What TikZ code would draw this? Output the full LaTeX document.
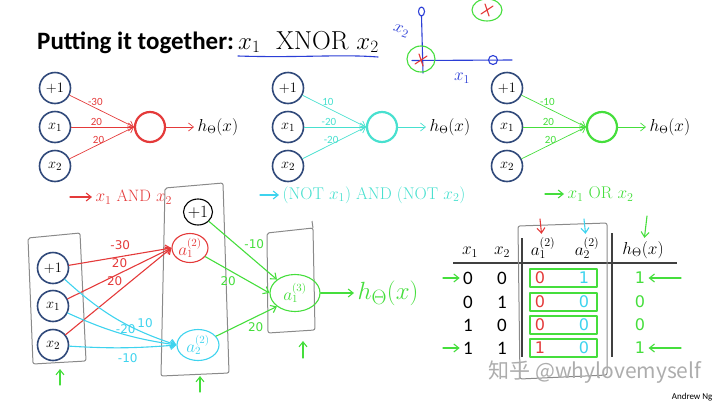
\documentclass[tikz,border=0pt]{standalone}
\usepackage{fontspec}
\newfontfamily\slidefont{Carlito}
\newfontfamily\penfont{DejaVu Sans}
\newfontfamily\cjkfont{Noto Sans CJK SC}
\usetikzlibrary{arrows.meta,shapes.geometric}

\definecolor{inblue}{HTML}{30497A}
\definecolor{andred}{HTML}{E43A3A}
\definecolor{norcyan}{HTML}{48E0CF}
\definecolor{orgreen}{HTML}{45DE3C}
\definecolor{penblue}{HTML}{2B3ED6}
\definecolor{pencyan}{HTML}{3ED3EE}
\definecolor{boxgray}{HTML}{8A8A8A}

\newcommand\setfs[1]{\fontsize{#1}{#1}\selectfont}

\begin{document}
\begin{tikzpicture}[x=1pt, y=-1pt,
  innode/.style={circle, draw=inblue, line width=1.6pt, minimum size=31pt, inner sep=0pt, font=\setfs{15}},
  outnode/.style={circle, line width=2.2pt, minimum size=30pt, inner sep=0pt},
  slidew/.style={font=\slidefont\setfs{11}, inner sep=1pt},
  penw/.style={font=\penfont\setfs{12}, inner sep=1pt},
  tip/.style={-{Straight Barb[length=5pt,width=8pt]}},
  pen/.style={line width=1.1pt, line cap=round, line join=round},
  hunit/.style={ellipse, draw, pen, inner sep=0pt, font=\setfs{16}},
  graybox/.style={draw=boxgray, line width=1pt, line join=round, rounded corners=2pt},
  numtxt/.style={font=\slidefont\setfs{19}},
  pennum/.style={font=\penfont\setfs{16}},
]
\useasboundingbox (0,0) rectangle (720,405);

% title and sketch
\node[anchor=base west, font=\slidefont\bfseries\setfs{25}, inner sep=0pt] (title) at (37,49) {Putting it together:};
\node[anchor=base west, font=\setfs{26}, inner sep=0pt] (xnor) at (238,49) {$x_1\ \ \mathrm{XNOR}\ x_2$};
\draw[penblue, pen] (238,56) .. controls (300,58) and (340,54) .. (378,57);

\draw[penblue, pen] (421.5,16) -- (423,73);
\draw[penblue, pen] (412,60.5) -- (512,60);
\draw[penblue, pen] (421.5,11.5) ellipse (3 and 4.5);
\draw[penblue, pen] (493,60) ellipse (4.5 and 4.5);
\draw[orgreen, pen] (421,59) ellipse (14 and 13);
\draw[orgreen, pen] (487,10) ellipse (15 and 11);
\foreach \px/\py in {421/60, 487/10}
  \draw[andred, pen] (\px-6,\py+4) -- (\px+6,\py-4) (\px-2,\py-6) -- (\px+2,\py+6);
\node[text=penblue, rotate=-20, font=\setfs{17}, inner sep=0pt] (axtwo) at (401,31) {$x_2$};
\node[text=penblue, font=\setfs{17}, inner sep=0pt] (axone) at (462,78) {$x_1$};

% three single neurons
\foreach \n/\xi/\xo/\c/\wa/\wb/\wc in {A/55/150/andred/-30/20/20, B/288/382/norcyan/10/-20/-20, C/507/602/orgreen/-10/20/20} {
  \node[innode] (\n0) at (\xi,88) {$+1$};
  \node[innode] (\n1) at (\xi,127) {$x_1$};
  \node[innode] (\n2) at (\xi,166) {$x_2$};
  \node[outnode, draw=\c] (\n-out) at (\xo,127) {};
  \node[anchor=west, font=\setfs{16}] (\n-h) at (\xo+44,127) {$h_\Theta(x)$};
  \draw[\c, tip, line width=0.7pt] (\n0) -- node[slidew, text=\c, pos=0.4, above=1pt] {\wa} (\n-out.west);
  \draw[\c, tip, line width=0.7pt] (\n1) -- node[slidew, text=\c, pos=0.4, above] {\wb} (\n-out.west);
  \draw[\c, tip, line width=0.7pt] (\n2) -- node[slidew, text=\c, pos=0.45, above] {\wc} (\n-out.west);
  \draw[\c, tip, line width=0.7pt] (\n-out) -- (\n-h);
}

\coordinate (andtail) at (70,197);
\node[text=andred, anchor=west, font=\setfs{16.5}] (andlbl) at (92,197) {$x_1$ AND $x_2$};
\draw[andred, pen, tip] (andtail) -- (andlbl);
\coordinate (nortail) at (260,195);
\node[text=norcyan, anchor=west, font=\setfs{17}] (norlbl) at (279,195) {(NOT $x_1$) AND (NOT $x_2$)};
\draw[pencyan, pen, tip] (nortail) -- (norlbl);
\coordinate (ortail) at (545,194);
\node[text=orgreen, anchor=west, font=\setfs{17}] (orlbl) at (564,194) {$x_1$ OR $x_2$};
\draw[orgreen, pen, tip] (ortail) -- (orlbl);

% hand drawn network
\draw[graybox] (28,238) -- (80,233) -- (86,361) -- (33,364) -- cycle;
\draw[graybox] (165,188) -- (223,183) -- (229,373) -- (161,376) -- cycle;
\draw[graybox] (267,233) -- (313,228) -- (315,330) -- (268,333) -- cycle;
\draw[graybox] (313,228) -- (312,221);

\node[innode] (bias1) at (53,268) {$+1$};
\node[innode] (in1) at (53,306) {$x_1$};
\node[innode] (in2) at (53,345) {$x_2$};
\node[hunit, draw=black, minimum width=29pt, minimum height=26pt] (bias2) at (198,212) {$+1$};
\node[hunit, draw=andred, text=andred, minimum width=36pt, minimum height=29pt] (a12) at (190,248) {$a^{(2)}_1$};
\node[hunit, draw=pencyan, text=pencyan, minimum width=42pt, minimum height=31pt] (a22) at (198,345) {$a^{(2)}_2$};
\node[hunit, draw=orgreen, text=orgreen, minimum width=50pt, minimum height=37pt] (a13) at (295,293) {$a^{(3)}_1$};
\node[text=orgreen, anchor=west, font=\setfs{30}] (hout) at (354,293) {$h_\Theta(x)$};

\draw[andred, pen, tip] (bias1) -- node[penw, text=andred, above=5pt] {-30} (a12.west);
\draw[andred, pen, tip] (in1) -- node[penw, text=andred, above=4pt] {20} (a12.west);
\draw[andred, pen, tip] (in2) -- node[penw, text=andred, pos=0.55, above left=0pt] {20} (a12.west);
\draw[pencyan, pen, tip] (bias1) to[bend right=12] node[penw, text=pencyan, pos=0.68, above right] {10} (a22.west);
\draw[pencyan, pen, tip] (in1) to[bend right=8] node[penw, text=pencyan, pos=0.55, above] {-20} (a22.west);
\draw[pencyan, pen, tip] (in2) to[bend right=4] node[penw, text=pencyan, pos=0.55, below=4pt] {-10} (a22.west);
\draw[orgreen, pen, tip] (bias2) -- node[penw, text=orgreen, above right] {-10} (a13.north west);
\draw[orgreen, pen, tip] (a12) -- node[penw, text=orgreen, below left] {20} (a13.west);
\draw[orgreen, pen, tip] (a22) -- node[penw, text=orgreen, below right] {20} (a13.south west);
\draw[orgreen, pen, tip] (a13) -- (hout);

\coordinate (upA) at (60,385);
\coordinate (upAtop) at (60,369);
\coordinate (upB) at (200,392);
\coordinate (upBtop) at (200,376);
\coordinate (upC) at (303,358);
\coordinate (upCtop) at (303,341);
\draw[orgreen, pen, tip] (upA) -- (upAtop);
\draw[orgreen, pen, tip] (upB) -- (upBtop);
\draw[orgreen, pen, tip] (upC) -- (upCtop);

% truth table
\node[font=\setfs{18}] (hx1) at (470,252) {$x_1$};
\node[font=\setfs{18}] (hx2) at (502,252) {$x_2$};
\node[font=\setfs{18}] (ha1) at (543,248) {$a^{(2)}_1$};
\node[font=\setfs{18}] (ha2) at (587,248) {$a^{(2)}_2$};
\node[font=\setfs{18}] (hh) at (643,250) {$h_\Theta(x)$};
\draw[black!75, line width=1.2pt] (453,263) -- (677,263);
\draw[black!75, line width=1.2pt] (522,238) -- (522,357);
\draw[black!75, line width=1.2pt] (612,233) -- (612,357);
\draw[graybox] (518,226) -- (607,223) -- (607,375) -- (520,379) -- cycle;

\foreach \r/\ry/\va/\vb/\pa/\pb/\ph in {1/278/0/0/0/1/1, 2/302/0/1/0/0/0, 3/325/1/0/0/0/0, 4/348/1/1/1/0/1} {
  \node[numtxt] (x1r\r) at (468,\ry) {\va};
  \node[numtxt] (x2r\r) at (502,\ry) {\vb};
  \node[pennum, text=andred] (a1r\r) at (540,\ry) {\pa};
  \node[pennum, text=pencyan] (a2r\r) at (584,\ry) {\pb};
  \node[pennum, text=orgreen] (hr\r) at (640,\ry) {\ph};
  \draw[orgreen, pen] (530,\ry-9) rectangle (597,\ry+9);
}

\coordinate (rowinA) at (443,278);
\coordinate (rowinB) at (443,348);
\coordinate (rowoutA) at (681,278);
\coordinate (rowoutB) at (681,348);
\draw[orgreen, pen, tip] (rowinA) -- (x1r1);
\draw[orgreen, pen, tip] (rowinB) -- (x1r4);
\draw[orgreen, pen, tip] (rowoutA) -- (hr1);
\draw[orgreen, pen, tip] (rowoutB) -- (hr4);
\coordinate (dnA) at (540,219);
\coordinate (dnB) at (584,219);
\coordinate (dnC) at (647,216);
\draw[andred, pen, tip] (dnA) -- (ha1);
\draw[pencyan, pen, tip] (dnB) -- (ha2);
\draw[orgreen, pen, tip] (dnC) -- (hh);

\node[text=black!32, anchor=west, font=\cjkfont\setfs{21}] (mark) at (485,372) {知乎 @whylovemyself};
\node[anchor=east, font=\slidefont\setfs{9}] (author) at (716,397) {Andrew Ng};
\end{tikzpicture}
\end{document}
